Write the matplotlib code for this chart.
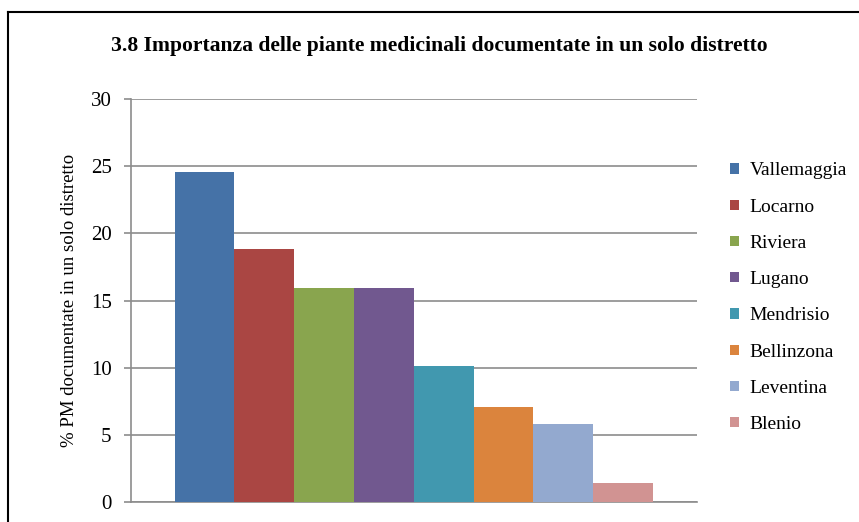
import matplotlib.pyplot as plt
from matplotlib.lines import Line2D

districts = ['Vallemaggia', 'Locarno', 'Riviera', 'Lugano', 'Mendrisio',
             'Bellinzona', 'Leventina', 'Blenio']
values = [24.6, 18.8, 15.9, 15.9, 10.1, 7.1, 5.8, 1.4]
colors = ['#4572A7', '#AA4643', '#89A54E', '#71588F', '#4198AF',
          '#DB843D', '#93A9CF', '#D19392']
yticks = [0, 5, 10, 15, 20, 25, 30]

plt.rcParams['font.family'] = ['Liberation Serif', 'DejaVu Serif']

fig = plt.figure(figsize=(8.59, 5.22), dpi=100)
ax = fig.add_axes([0.1525, 0.0383, 0.6585, 0.772])

for i, (name, v, c) in enumerate(zip(districts, values, colors)):
    ax.bar(i, v, width=1.0, color=c, label=name, zorder=3)

ax.set_xlim(-1.228, 8.228)
ax.set_ylim(0, 30)
ax.set_yticks(yticks)
ax.set_yticklabels([str(t) for t in yticks], fontsize=15)
ax.set_xticks([])
ax.yaxis.grid(True, color='#8c8c8c', linewidth=1.2, zorder=0)
ax.tick_params(axis='y', direction='out', length=5, color='#8c8c8c',
               width=1.2, pad=9)

for s in ['top', 'right']:
    ax.spines[s].set_visible(False)
ax.spines['left'].set_color('#8c8c8c')
ax.spines['left'].set_linewidth(1.2)
ax.spines['bottom'].set_color('#8c8c8c')
ax.spines['bottom'].set_linewidth(1.2)

ax.set_ylabel('% PM documentate in un solo distretto', fontsize=13.5,
              labelpad=9)

fig.text(0.512, 0.912,
         '3.8 Importanza delle piante medicinali documentate in un solo distretto',
         ha='center', va='center', fontsize=15.6, fontweight='bold')

ax.legend(loc='upper left', bbox_to_anchor=(1.045, 0.862), frameon=False,
          fontsize=14, handlelength=0.45, handleheight=0.45,
          handletextpad=0.55, labelspacing=0.99, borderaxespad=0)

# chart frame (only top and left edges visible in the crop)
fig.add_artist(Line2D([0.0093, 0.0093], [0, 0.977], color='black',
                      linewidth=1.5, transform=fig.transFigure))
fig.add_artist(Line2D([0.0093, 1.0], [0.977, 0.977], color='black',
                      linewidth=1.5, transform=fig.transFigure))

fig.savefig('out.png', dpi=100)
